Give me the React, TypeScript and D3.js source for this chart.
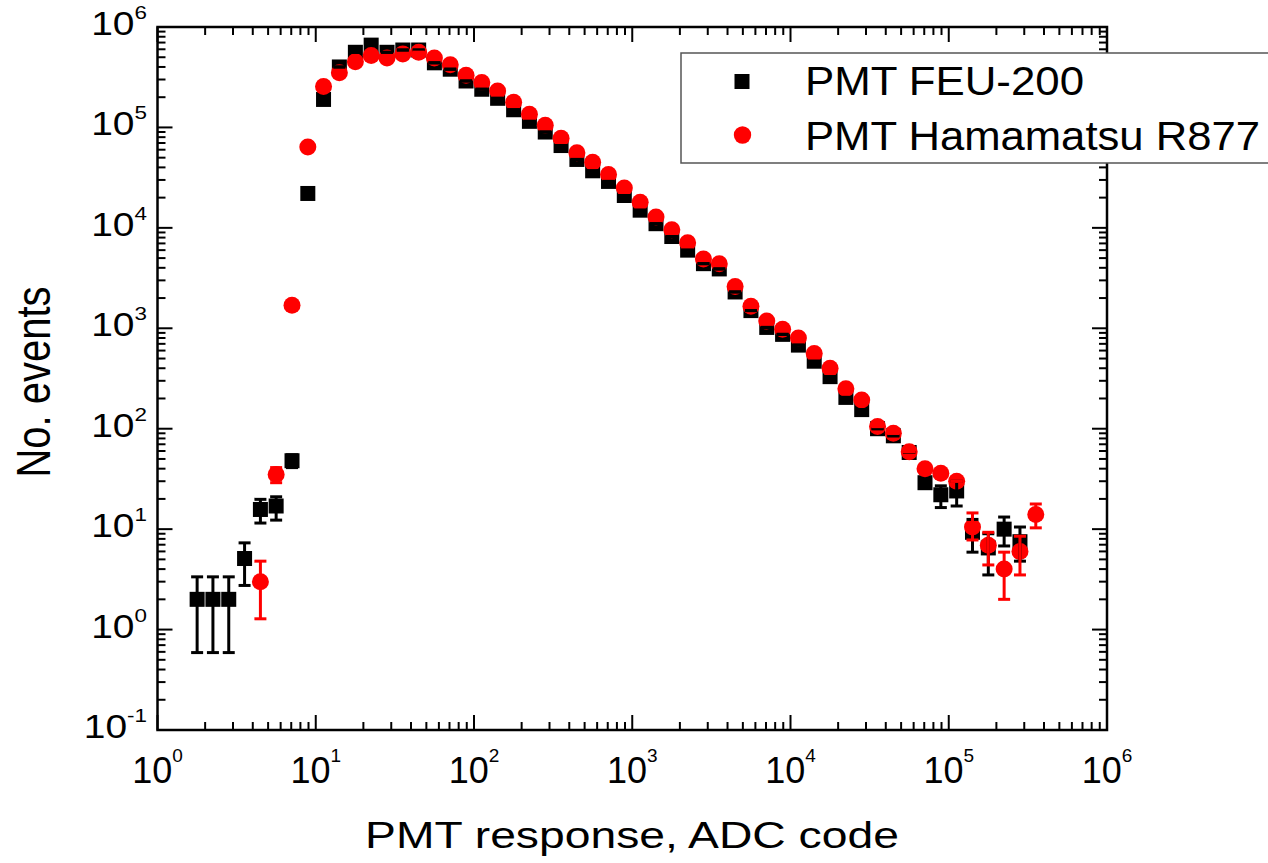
import React from "react";
import * as d3 from "d3";

// Bin centres (ADC code)
const adc: number[] = [
  1.78, 2.24, 2.82, 3.55, 4.47, 5.62, 7.08, 8.91, 11.2, 14.1,
  17.8, 22.4, 28.2, 35.5, 44.7, 56.2, 70.8, 89.1, 112, 141,
  178, 224, 282, 355, 447, 562, 708, 891, 1122, 1413,
  1778, 2239, 2818, 3548, 4467, 5623, 7079, 8913, 11220, 14125,
  17783, 22387, 28184, 35481, 44668, 56234, 70795, 89125, 112202, 141254,
  177828, 223872, 281838, 354813,
];

// PMT FEU-200 (black squares)
const feu: (number | null)[] = [
  2, 2, 2, 5.1, 15.7, 17, 48, 2.2e4, 1.9e5, 4.0e5,
  5.6e5, 6.6e5, 5.6e5, 5.9e5, 5.9e5, 4.4e5, 3.8e5, 2.9e5, 2.4e5, 1.95e5,
  1.5e5, 1.15e5, 9.0e4, 6.6e4, 4.8e4, 3.7e4, 2.9e4, 2.1e4, 1.5e4, 1.1e4,
  8.2e3, 6.0e3, 4.4e3, 3.9e3, 2.3e3, 1.5e3, 1.02e3, 870, 680, 470,
  330, 205, 155, 100, 85, 58, 29, 22, 24, 9.3,
  6.5, 10, 7.5, null,
];
const feuLo: (number | null)[] = [
  0.59, 0.59, 0.59, 2.75, 11.5, 12.3, 41, null, null, null,
  null, null, null, null, null, null, null, null, null, null,
  null, null, null, null, null, null, null, null, null, null,
  null, null, null, null, null, null, null, null, null, null,
  null, null, null, null, null, null, null, 16.4, 17, 5.9,
  3.5, 6.8, 4.8, null,
];
const feuHi: (number | null)[] = [
  3.35, 3.35, 3.35, 7.3, 19.8, 21, 55, null, null, null,
  null, null, null, null, null, null, null, null, null, null,
  null, null, null, null, null, null, null, null, null, null,
  null, null, null, null, null, null, null, null, null, null,
  null, null, null, null, null, null, null, 27, 30, 12.5,
  9, 13.2, 10.5, null,
];

// PMT Hamamatsu R877 (red circles)
const ham: (number | null)[] = [
  null, null, null, null, 3.0, 35, 1700, 6.4e4, 2.55e5, 3.5e5,
  4.5e5, 5.2e5, 4.9e5, 5.4e5, 5.6e5, 4.9e5, 4.2e5, 3.3e5, 2.8e5, 2.3e5,
  1.78e5, 1.35e5, 1.05e5, 7.8e4, 5.6e4, 4.5e4, 3.4e4, 2.5e4, 1.8e4, 1.28e4,
  9.6e3, 7.1e3, 4.9e3, 4.4e3, 2.6e3, 1.66e3, 1.18e3, 980, 800, 560,
  400, 250, 193, 105, 90, 59, 40, 36, 30, 10.5,
  6.9, 4.0, 6.0, 14,
];
const hamLo: (number | null)[] = [
  null, null, null, null, 1.28, 29, null, null, null, null,
  null, null, null, null, null, null, null, null, null, null,
  null, null, null, null, null, null, null, null, null, null,
  null, null, null, null, null, null, null, null, null, null,
  null, null, null, null, null, null, null, null, null, 7.8,
  4.4, 2.0, 3.5, 10.3,
];
const hamHi: (number | null)[] = [
  null, null, null, null, 4.8, 41, null, null, null, null,
  null, null, null, null, null, null, null, null, null, null,
  null, null, null, null, null, null, null, null, null, null,
  null, null, null, null, null, null, null, null, null, null,
  null, null, null, null, null, null, null, null, null, 14.5,
  9.3, 5.9, 8.5, 17.8,
];

const xTickExps = [0, 1, 2, 3, 4, 5, 6];
const yTickExps = [-1, 0, 1, 2, 3, 4, 5, 6];
const seriesNames = ["PMT FEU-200", "PMT Hamamatsu R877"];

const FONT = "'Liberation Sans', Arial, sans-serif";

export default function App() {
  const W = 1268, H = 863;
  const L = 157.5, R = 1107, T = 27, B = 730;
  const x = d3.scaleLog().domain([1, 1e6]).range([L, R]);
  const y = d3.scaleLog().domain([0.1, 1e6]).range([B, T]);

  const isMajor = (v: number) => Math.abs(Math.log10(v) - Math.round(Math.log10(v))) < 1e-9;
  const xt = x.ticks();
  const yt = y.ticks();
  const MJ = 15, MN = 8;

  const errBar = (i: number, vals: (number | null)[], lo: (number | null)[], hi: (number | null)[], color: string) => {
    const v = vals[i];
    if (v == null) return null;
    const cx = x(adc[i]);
    const l = lo[i] ?? v, h = hi[i] ?? v;
    const y1 = y(h), y2 = y(l);
    return (
      <g key={color + i} stroke={color} strokeWidth={3}>
        {l !== h && <line x1={cx} x2={cx} y1={y1} y2={y2} />}
        <line x1={cx - 6} x2={cx + 6} y1={y1} y2={y1} />
        <line x1={cx - 6} x2={cx + 6} y1={y2} y2={y2} />
      </g>
    );
  };

  return (
    <svg width={W} height={H} style={{ position: "absolute", left: 0, top: 0, background: "#fff" }} fontFamily={FONT}>
      <rect x={0} y={0} width={W} height={H} fill="#fff" />
      {/* ticks */}
      <g stroke="#000" strokeWidth={2}>
        {xt.map((v, i) => {
          const len = isMajor(v) ? MJ : MN;
          const px = x(v);
          return (
            <g key={"xt" + i}>
              <line x1={px} x2={px} y1={B} y2={B - len} />
              <line x1={px} x2={px} y1={T} y2={T + len} />
            </g>
          );
        })}
        {yt.map((v, i) => {
          const len = isMajor(v) ? MJ : MN;
          const py = y(v);
          return (
            <g key={"yt" + i}>
              <line x1={L} x2={L + len} y1={py} y2={py} />
              <line x1={R} x2={R - len} y1={py} y2={py} />
            </g>
          );
        })}
      </g>
      <rect x={L} y={T} width={R - L} height={B - T} fill="none" stroke="#000" strokeWidth={2.5} />

      {/* x tick labels */}
      {xTickExps.map((e) => (
        <text key={"xl" + e} x={x(Math.pow(10, e))} y={783} textAnchor="middle" fontSize={36} fill="#000">
          10<tspan fontSize={19} dy={-21}>{e}</tspan>
        </text>
      ))}
      {/* y tick labels */}
      {yTickExps.map((e) => (
        <g key={"yl" + e} transform={`translate(147,${y(Math.pow(10, e))}) scale(1.18,1)`}>
          <text x={0} y={8} textAnchor="end" fontSize={33} fill="#000">
            10<tspan fontSize={19} dy={-16}>{e}</tspan>
          </text>
        </g>
      ))}

      {/* axis titles */}
      <g transform="translate(632,848) scale(1.25,1)">
        <text x={0} y={0} textAnchor="middle" fontSize={37} fill="#000">PMT response, ADC code</text>
      </g>
      <g transform="translate(50,382) scale(1.22,1) rotate(-90)">
        <text x={0} y={0} textAnchor="middle" fontSize={40} fill="#000">No. events</text>
      </g>

      {/* black squares */}
      {feu.map((v, i) =>
        v == null ? null : (
          <rect key={"fs" + i} x={x(adc[i]) - 7.5} y={y(v) - 7.5} width={15} height={15} fill="#000" />
        )
      )}
      {/* red circles */}
      {ham.map((v, i) =>
        v == null ? null : <circle key={"hc" + i} cx={x(adc[i])} cy={y(v)} r={8.5} fill="#ff0000" />
      )}
      {/* error bars */}
      {feu.map((_, i) => errBar(i, feu, feuLo, feuHi, "#000"))}
      {ham.map((_, i) => errBar(i, ham, hamLo, hamHi, "#ff0000"))}

      {/* legend */}
      <rect x={681} y={53} width={640} height={110} fill="#fff" stroke="#555" strokeWidth={1.5} />
      <rect x={742 - 7.5} y={81.5 - 7.5} width={15} height={15} fill="#000" />
      <circle cx={742.5} cy={135} r={8.7} fill="#ff0000" />
      <text x={805} y={95} fontSize={41} textLength={279} lengthAdjust="spacingAndGlyphs" fill="#000">{seriesNames[0]}</text>
      <text x={805} y={150} fontSize={41} textLength={455} lengthAdjust="spacingAndGlyphs" fill="#000">{seriesNames[1]}</text>
    </svg>
  );
}
